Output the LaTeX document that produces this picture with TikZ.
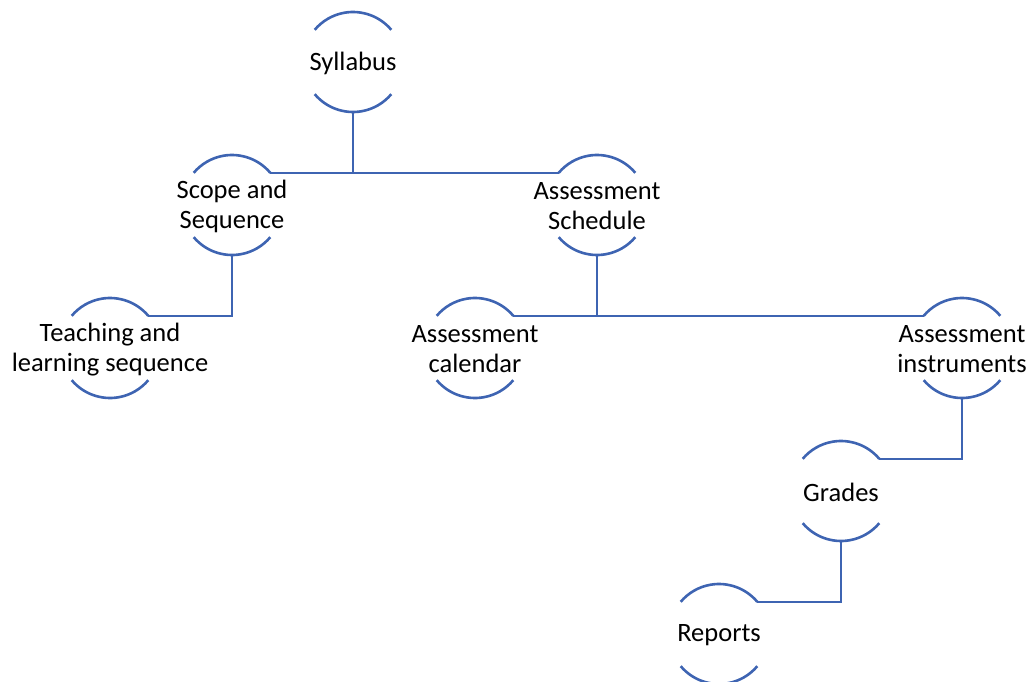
\documentclass[tikz,border=0pt]{standalone}
\usepackage{fontspec}
\setmainfont{Carlito}
\definecolor{lineblue}{RGB}{62,100,178}
\begin{document}
\begin{tikzpicture}[x=1pt,y=1pt,
  ring/.style={circle,minimum size=100pt,inner sep=0pt,outer sep=0pt},
  txt/.style={align=center,font=\fontsize{26.5}{30}\selectfont,text=black,inner sep=0pt,yshift=-1.5pt},
  link/.style={draw=lineblue,line width=2.6pt},
  arcs/.style={draw=lineblue,line width=2.6pt}]
\useasboundingbox (0,0) rectangle (1030,-682);
\node[ring,label={[txt]center:Syllabus}] (syl) at (353,-62) {};
\node[ring,label={[txt]center:{Scope and\\Sequence}}] (sco) at (232,-205) {};
\node[ring,label={[txt]center:{Assessment\\Schedule}}] (sch) at (597,-205) {};
\node[ring,label={[txt]center:{Teaching and\\learning sequence}}] (tea) at (110,-348) {};
\node[ring,label={[txt]center:{Assessment\\calendar}}] (cal) at (475,-348) {};
\node[ring,label={[txt]center:{Assessment\\instruments}}] (ins) at (962,-348) {};
\node[ring,label={[txt]center:Grades}] (gra) at (841,-491) {};
\node[ring,label={[txt]center:Reports}] (rep) at (719,-634) {};
\foreach \n in {syl,sco,sch,tea,cal,ins,gra,rep}{
  \draw[arcs] (\n.40) arc[start angle=40,end angle=140,radius=50];
  \draw[arcs] (\n.220) arc[start angle=220,end angle=320,radius=50];
}
\draw[link] (sco.40) -- (sch.140);
\draw[link] (syl.south) -- (syl.south |- sco.40);
\draw[link] (sco.south) |- (tea.40);
\draw[link] (cal.40) -- (ins.140);
\draw[link] (sch.south) -- (sch.south |- cal.40);
\draw[link] (ins.south) |- (gra.40);
\draw[link] (gra.south) |- (rep.40);
\end{tikzpicture}
\end{document}
